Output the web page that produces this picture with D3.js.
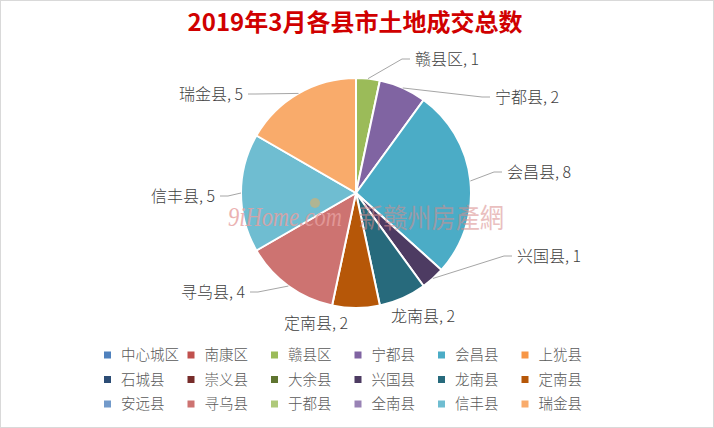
<!DOCTYPE html>
<html lang="zh">
<head>
<meta charset="UTF-8">
<script src="https://d3js.org/d3.v7.min.js"></script>
<style>
  body { margin: 0; background: #fff; }
  svg text { font-family: "Noto Sans CJK SC", "Noto Sans", sans-serif; }
</style>
</head>
<body>
<script>
    // data
    var categories = ["中心城区", "南康区", "赣县区", "宁都县", "会昌县", "上犹县",
                      "石城县", "崇义县", "大余县", "兴国县", "龙南县", "定南县",
                      "安远县", "寻乌县", "于都县", "全南县", "信丰县", "瑞金县"];
    var values = [0, 0, 1, 2, 8, 0, 0, 0, 0, 1, 2, 2, 0, 4, 0, 0, 5, 5];
    var colors = ["#4F81BD", "#C0504D", "#9BBB59", "#8064A2", "#4BACC6", "#F79646",
                  "#2C4D75", "#772C2A", "#5F7530", "#4D3B62", "#276A7C", "#B65708",
                  "#729ACA", "#CD7371", "#AFC97A", "#9983B5", "#6FBDD1", "#F9AB6B"];
    var title = "2019年3月各县市土地成交总数";

    var width = 714, height = 428;
    var cx = 356, cy = 193, radius = 115;

    // where Excel put each data label (offset from pie centre), anchor, leader or not
    var labelLayout = {
        "赣县区": { dx: 59, dy: -134, anchor: "start", line: true },
        "宁都县": { dx: 139, dy: -96, anchor: "start", line: true },
        "会昌县": { dx: 151, dy: -21, anchor: "start", line: true },
        "兴国县": { dx: 161, dy: 63, anchor: "start", line: true },
        "龙南县": { dx: 67, dy: 123, anchor: "middle", line: false },
        "定南县": { dx: -40, dy: 130, anchor: "middle", line: false },
        "寻乌县": { dx: -111, dy: 99, anchor: "end", line: true },
        "信丰县": { dx: -141, dy: 3, anchor: "end", line: true },
        "瑞金县": { dx: -113, dy: -99, anchor: "end", line: true }
    };

    var svg = d3.select("body").append("svg")
        .attr("width", width)
        .attr("height", height);

    svg.append("rect")
        .attr("x", 0.5).attr("y", 0.5)
        .attr("width", width - 1).attr("height", height - 1)
        .attr("fill", "#fff")
        .attr("stroke", "#d9d9d9");

    svg.append("text")
        .attr("x", 355)
        .attr("y", 31)
        .attr("text-anchor", "middle")
        .attr("font-size", "24px")
        .attr("font-weight", "bold")
        .attr("fill", "#d00000")
        .text(title);

    var data = categories.map(function (c, i) {
        return { name: c, value: values[i], color: colors[i] };
    });

    var pie = d3.pie().sort(null).value(function (d) { return d.value; });
    var arcs = pie(data).filter(function (d) { return d.value > 0; });
    var arc = d3.arc().innerRadius(0).outerRadius(radius);

    var g = svg.append("g").attr("transform", "translate(" + cx + "," + cy + ")");

    g.selectAll("path")
        .data(arcs)
        .enter()
        .append("path")
        .attr("d", arc)
        .attr("fill", function (d) { return d.data.color; })
        .attr("stroke", "#fff")
        .attr("stroke-width", 2);

    // watermark
    svg.append("text")
        .attr("x", 228).attr("y", 226)
        .style("font-family", "'Liberation Serif', 'DejaVu Serif', serif")
        .attr("font-style", "italic")
        .attr("font-size", "28px")
        .attr("fill", "#e7a0a0")
        .attr("opacity", 0.8)
        .attr("textLength", 114)
        .attr("lengthAdjust", "spacingAndGlyphs")
        .text("9iHome.com");
    svg.append("text")
        .attr("x", 359).attr("y", 228)
        .attr("font-size", "27px")
        .attr("fill", "#d98c8c")
        .attr("opacity", 0.55)
        .attr("textLength", 145)
        .attr("lengthAdjust", "spacingAndGlyphs")
        .text("新赣州房產網");
    svg.append("circle")
        .attr("cx", 315).attr("cy", 203).attr("r", 5)
        .attr("fill", "#b7b48c").attr("opacity", 0.9);

    // data labels + leader lines
    arcs.forEach(function (d) {
        var lay = labelLayout[d.data.name];
        if (!lay) return;
        var mid = (d.startAngle + d.endAngle) / 2;
        var px = Math.sin(mid) * radius, py = -Math.cos(mid) * radius;
        if (lay.line) {
            var dir = lay.anchor === "start" ? -1 : 1;
            var ex = lay.dx + dir * 5, ey = lay.dy;
            g.append("polyline")
                .attr("points", [[px, py], [ex + dir * 8, ey], [ex, ey]].map(function (p) { return p.join(","); }).join(" "))
                .attr("fill", "none")
                .attr("stroke", "#a6a6a6")
                .attr("stroke-width", 1);
        }
        g.append("text")
            .attr("x", lay.dx)
            .attr("y", lay.dy)
            .attr("dy", "0.35em")
            .attr("text-anchor", lay.anchor)
            .attr("font-size", "16px")
            .attr("font-weight", 300)
            .attr("fill", "#404040")
            .text(d.data.name + ", " + d.data.value);
    });

    // legend
    var legend = svg.append("g").attr("transform", "translate(104,355)");
    var item = legend.selectAll("g")
        .data(data)
        .enter()
        .append("g")
        .attr("transform", function (d, i) {
            return "translate(" + ((i % 6) * 83.5) + "," + (Math.floor(i / 6) * 24.5) + ")";
        });
    item.append("rect")
        .attr("x", 0).attr("y", -3.5)
        .attr("width", 7).attr("height", 7)
        .attr("fill", function (d) { return d.color; });
    item.append("text")
        .attr("x", 17)
        .attr("y", 0)
        .attr("dy", "0.35em")
        .attr("font-size", "14.5px")
        .attr("font-weight", 300)
        .attr("fill", "#595959")
        .text(function (d) { return d.name; });
</script>
</body>
</html>
